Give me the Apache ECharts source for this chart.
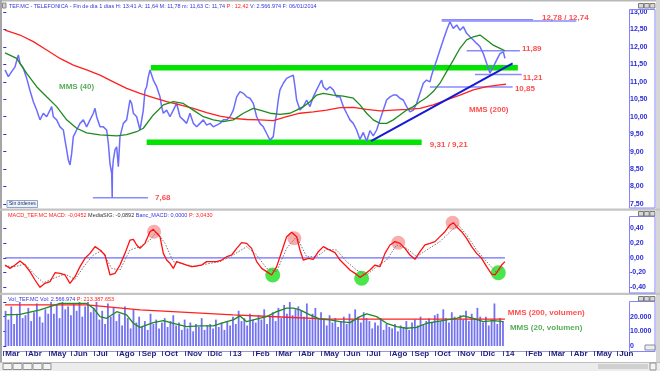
<!DOCTYPE html>
<html><head><meta charset="utf-8">
<script src="https://cdn.jsdelivr.net/npm/echarts@6/dist/echarts.min.js"></script>
<style>html,body{margin:0;padding:0;background:#fff}#c{width:660px;height:371px}</style>
</head><body><div id="c"></div><script>
// x values are months elapsed since 1 Mar 2012
const monthLabels = ['Mar','Abr','May','Jun','Jul','Ago','Sep','Oct','Nov','Dic','13','Feb','Mar','Abr','May','Jun','Jul','Ago','Sep','Oct','Nov','Dic','14','Feb','Mar','Abr','May','Jun'];

const price = [[0.075,11.34],[0.221,11.15],[0.368,11.29],[0.515,11.43],[0.661,11.77],[0.735,11.53],[0.881,11.39],[1.028,11.10],[1.174,10.75],[1.321,10.43],[1.467,10.19],[1.614,9.91],[1.761,10.10],[1.907,10.00],[2.054,10.19],[2.127,10.29],[2.200,10.00],[2.347,9.91],[2.494,9.71],[2.640,9.62],[2.713,9.33],[2.787,9.05],[2.860,8.76],[2.933,8.62],[3.007,8.95],[3.080,9.43],[3.226,9.62],[3.373,9.81],[3.520,9.91],[3.666,9.71],[3.813,9.91],[3.960,10.10],[4.033,10.24],[4.106,10.00],[4.253,9.71],[4.399,9.71],[4.546,9.62],[4.619,9.24],[4.692,8.66],[4.766,8.38],[4.790,7.68],[4.800,8.45],[4.839,8.76],[4.912,9.05],[4.986,9.14],[5.059,8.57],[5.132,9.43],[5.279,9.81],[5.425,9.91],[5.572,10.48],[5.645,10.38],[5.719,10.10],[5.865,10.00],[6.012,9.62],[6.158,10.19],[6.231,10.75],[6.305,10.86],[6.378,11.15],[6.451,11.34],[6.598,11.05],[6.745,10.86],[6.891,10.57],[6.964,10.29],[7.038,10.10],[7.184,10.19],[7.331,10.00],[7.477,10.19],[7.624,10.38],[7.771,10.00],[7.917,9.91],[8.064,9.81],[8.210,10.10],[8.357,9.81],[8.503,9.71],[8.650,9.81],[8.797,9.91],[8.943,9.76],[9.090,9.81],[9.236,9.71],[9.383,9.76],[9.530,9.81],[9.676,9.91],[9.823,9.91],[9.969,10.00],[10.116,10.19],[10.263,10.57],[10.409,10.72],[10.556,10.67],[10.702,10.57],[10.849,10.53],[10.995,10.38],[11.142,10.00],[11.288,9.81],[11.435,9.71],[11.582,9.52],[11.728,9.33],[11.874,9.43],[11.948,9.81],[12.021,10.10],[12.094,10.48],[12.168,10.77],[12.314,10.96],[12.461,11.10],[12.607,11.15],[12.754,11.19],[12.827,10.86],[12.900,10.48],[13.047,10.19],[13.194,10.29],[13.340,10.48],[13.487,10.29],[13.633,10.57],[13.780,10.77],[13.926,10.96],[14.000,11.05],[14.073,10.86],[14.220,10.77],[14.366,10.86],[14.513,10.77],[14.659,10.57],[14.806,10.57],[14.953,10.29],[15.099,10.10],[15.246,9.91],[15.392,9.81],[15.539,9.62],[15.686,9.35],[15.832,9.55],[15.979,9.30],[16.125,9.60],[16.272,9.45],[16.418,9.62],[16.565,9.91],[16.712,10.19],[16.858,10.48],[17.005,10.57],[17.151,10.62],[17.298,10.62],[17.445,10.53],[17.591,10.48],[17.738,10.29],[17.884,10.14],[18.031,10.19],[18.177,10.38],[18.324,10.67],[18.471,10.96],[18.617,11.05],[18.764,11.00],[18.837,11.19],[18.910,11.34],[18.984,11.48],[19.057,11.62],[19.204,11.91],[19.350,12.20],[19.497,12.48],[19.643,12.72],[19.790,12.53],[19.937,12.63],[20.083,12.48],[20.230,12.58],[20.376,12.39],[20.523,12.29],[20.670,12.20],[20.816,12.10],[20.963,12.01],[21.109,11.81],[21.256,11.53],[21.402,11.25],[21.549,11.43],[21.695,11.62],[21.842,11.81],[21.989,11.86],[22.062,11.67]];

const mms40 = [[0.075,11.83],[0.588,11.67],[1.028,11.24],[1.467,10.86],[1.907,10.57],[2.347,10.29],[2.787,9.91],[3.226,9.67],[3.666,9.54],[4.253,9.48],[4.986,9.45],[5.425,9.49],[5.865,9.57],[6.158,9.67],[6.598,10.05],[7.038,10.34],[7.477,10.43],[7.917,10.38],[8.357,10.19],[8.797,10.00],[9.236,9.91],[9.676,9.86],[10.116,9.91],[10.556,10.10],[10.995,10.24],[11.288,10.19],[11.728,10.10],[12.168,10.07],[12.607,10.10],[12.900,10.19],[13.194,10.29],[13.487,10.43],[13.780,10.62],[14.073,10.67],[14.513,10.62],[14.953,10.59],[15.392,10.53],[15.686,10.34],[15.979,10.10],[16.272,9.91],[16.565,9.81],[16.858,9.81],[17.151,9.91],[17.445,10.05],[17.738,10.19],[18.031,10.29],[18.324,10.43],[18.617,10.55],[18.910,10.72],[19.204,10.96],[19.497,11.29],[19.790,11.62],[20.083,11.96],[20.376,12.20],[20.670,12.29],[20.963,12.34],[21.256,12.20],[21.549,12.05],[21.842,11.96],[22.062,11.89]];

const mms200 = [[0.075,12.48],[0.735,12.34],[1.321,12.15],[1.907,11.91],[2.494,11.67],[3.080,11.48],[3.666,11.34],[4.253,11.19],[4.839,11.00],[5.425,10.81],[6.012,10.67],[6.598,10.55],[7.184,10.43],[7.771,10.34],[8.357,10.24],[8.943,10.12],[9.530,10.02],[10.116,9.95],[10.702,9.92],[11.288,9.91],[11.874,9.89],[12.461,10.00],[13.047,10.10],[13.633,10.14],[14.220,10.19],[14.806,10.26],[15.392,10.27],[15.979,10.21],[16.565,10.17],[17.151,10.19],[17.738,10.21],[18.324,10.24],[18.910,10.34],[19.497,10.48],[20.083,10.62],[20.670,10.77],[21.256,10.86],[21.842,10.91],[22.106,10.93]];

const macd = [[0.075,-0.098],[0.295,-0.143],[0.515,-0.098],[0.735,-0.043],[0.954,-0.098],[1.174,-0.188],[1.394,-0.301],[1.614,-0.400],[1.834,-0.346],[2.054,-0.324],[2.274,-0.202],[2.494,-0.211],[2.713,-0.233],[2.933,-0.346],[3.153,-0.256],[3.373,-0.120],[3.593,-0.007],[3.813,0.060],[4.033,0.151],[4.253,0.106],[4.472,0.038],[4.692,-0.233],[4.912,-0.211],[5.132,-0.098],[5.352,0.060],[5.572,0.241],[5.719,0.250],[5.865,0.174],[6.012,0.128],[6.231,0.196],[6.451,0.354],[6.598,0.386],[6.745,0.332],[6.891,0.287],[7.038,0.060],[7.184,-0.030],[7.331,-0.075],[7.477,-0.143],[7.624,-0.052],[7.844,-0.075],[8.064,-0.098],[8.284,-0.120],[8.503,-0.111],[8.723,-0.098],[8.943,-0.052],[9.163,-0.052],[9.383,-0.052],[9.603,-0.030],[9.823,0.015],[10.043,0.038],[10.263,0.128],[10.482,0.205],[10.702,0.196],[10.922,0.128],[11.142,-0.052],[11.362,-0.143],[11.582,-0.188],[11.802,-0.233],[12.022,-0.120],[12.241,0.083],[12.461,0.287],[12.681,0.345],[12.901,0.287],[13.047,0.106],[13.194,-0.030],[13.414,-0.007],[13.634,-0.021],[13.854,0.083],[14.074,0.151],[14.294,0.115],[14.367,0.106],[14.587,0.070],[14.807,-0.030],[15.027,-0.098],[15.246,-0.166],[15.466,-0.211],[15.686,-0.265],[15.906,-0.220],[16.126,-0.166],[16.346,-0.098],[16.566,-0.120],[16.786,0.060],[17.006,0.174],[17.225,0.219],[17.445,0.196],[17.665,0.128],[17.885,0.038],[18.105,-0.021],[18.325,0.083],[18.545,0.174],[18.765,0.196],[18.984,0.219],[19.204,0.287],[19.424,0.354],[19.644,0.445],[19.791,0.476],[19.937,0.422],[20.157,0.354],[20.377,0.264],[20.597,0.151],[20.817,0.060],[21.037,-0.007],[21.257,-0.120],[21.476,-0.220],[21.623,-0.233],[21.770,-0.166],[21.916,-0.098],[22.063,-0.052]];

const macdSignal = [[0.075,-0.111],[0.515,-0.120],[0.954,-0.084],[1.394,-0.233],[1.761,-0.338],[2.200,-0.280],[2.713,-0.220],[3.153,-0.293],[3.593,-0.098],[3.960,0.038],[4.326,0.097],[4.766,-0.143],[5.132,-0.166],[5.572,0.106],[6.012,0.151],[6.451,0.241],[6.745,0.354],[7.111,0.196],[7.477,-0.052],[7.844,-0.075],[8.357,-0.120],[8.943,-0.084],[9.530,-0.052],[10.116,0.038],[10.702,0.151],[11.142,0.038],[11.582,-0.143],[12.022,-0.188],[12.461,0.128],[12.901,0.287],[13.341,0.015],[13.780,0.015],[14.220,0.115],[14.660,0.106],[15.100,-0.052],[15.540,-0.166],[15.979,-0.233],[16.419,-0.120],[16.859,-0.030],[17.299,0.174],[17.738,0.128],[18.178,0.015],[18.618,0.106],[19.204,0.219],[19.644,0.354],[20.010,0.445],[20.377,0.309],[20.817,0.106],[21.257,-0.052],[21.696,-0.202],[21.989,-0.120]];

const macdPeaks = [[6.63,0.354],[12.80,0.264],[17.37,0.205],[19.76,0.476]];
const macdTroughs = [[11.85,-0.233],[15.76,-0.278],[21.77,-0.202]];

// volume bars: one every 1/8 month from volStart
const volStart = 0.1, volStep = 0.125;
const volume = [24000,18000,27000,15000,22000,30000,19000,21000, 26000,17000,23000,29000,20000,16000,25000,22000,
 30000,22000,28000,19000,31000,25000,27000,21000, 29000,24000,31000,20000,27000,30000,23000,26000,
 31000,18000,24000,15000,29000,20000,26000,17000, 22000,14000,27000,19000,12000,25000,16000,20000,
 13000,17000,11000,22000,15000,18000,12000,16000, 19000,13000,17000,21000,14000,16000,11000,18000,
 12000,16000,10000,15000,13000,19000,11000,14000, 15000,12000,18000,13000,16000,11000,17000,14000,
 20000,15000,24000,17000,19000,14000,22000,18000, 16000,21000,18000,25000,15000,20000,23000,17000,
 26000,19000,28000,22000,30000,21000,25000,27000, 24000,20000,29000,18000,22000,26000,19000,23000,
 18000,14000,21000,16000,19000,13000,17000,20000, 15000,22000,18000,25000,20000,16000,23000,19000,
 17000,12000,16000,14000,19000,11000,15000,13000, 12000,15000,10000,14000,13000,17000,11000,16000,
 18000,14000,20000,15000,17000,19000,16000,21000, 22000,17000,25000,19000,16000,23000,20000,18000,
 21000,18000,24000,17000,22000,19000,26000,20000, 16000,20000,14000,18000,29000,15000,19000,17000];

const volMms20 = [[0.075,21160],[0.735,21600],[1.614,24600],[2.494,29000],[3.666,29000],[3.960,25800],[4.253,20000],[4.546,18900],[4.986,23400],[5.425,21200],[5.719,15500],[6.012,12700],[6.598,15900],[7.038,17300],[7.477,15500],[8.064,13200],[8.650,13700],[9.236,13700],[9.823,16600],[10.116,17800],[10.409,20500],[10.702,16600],[10.995,17800],[11.582,20000],[12.022,23400],[12.461,25800],[12.754,25800],[13.047,24600],[13.487,21200],[13.927,18300],[14.367,17800],[14.807,16600],[15.246,15900],[15.686,20000],[15.979,21900],[16.419,20000],[16.859,15500],[17.299,13200],[17.738,12100],[18.178,12700],[18.618,15500],[19.058,16600],[19.497,17800],[19.937,18900],[20.230,20500],[20.670,18900],[21.110,16600],[21.549,17300],[21.989,16600]];
const volMms200 = [[0.075,28000],[3.666,28000],[6.012,24600],[10.116,21200],[12.461,19600],[14.367,18300],[22.06,18300]];

// chart annotations (levels drawn by the analyst)
const bandLevels = [11.40, 9.27];
const bandSpans = [[6.49,22.63],[6.305,18.40]];
const levelValues = [12.78, 12.74, 11.89, 11.21, 10.85, 7.68];
const levelSpans = [[19.28,23.3],[19.28,25.2],[20.38,22.72],[20.74,22.8],[18.76,22.4],[3.94,6.36]];
const trendLine = [[16.17,9.30],[22.40,11.53]];
const priceNotes = [['12,78 / 12,74',23.69,12.84,'r'],['11,89',22.81,11.94,'r'],['11,21',22.85,11.11,'r'],['10,85',22.50,10.79,'r'],['9,31 / 9,21',18.76,9.20,'r'],['7,68',6.67,7.685,'r'],['MMS (40)',2.45,10.85,'g'],['MMS (200)',20.48,10.21,'r']];
const volNotes = [['MMS (200, volumen)',22.19,22500,'r'],['MMS (20, volumen)',22.28,12300,'g']];

const FONT = '"Liberation Sans", Arial, sans-serif';
const AX = '#2a2ad8';
const RED = '#ff2020', GREEN = '#1f8a1f', NOTE_G = '#2e962e';
const fmt2 = v => v.toFixed(2).replace('.', ',').replace('-0,00','0,00');
const fmtVol = v => String(Math.round(v)).replace(/\B(?=(\d{3})+(?!\d))/g, '.');

const GL = 3.3, GW = 623.7, XMAX = 27.43;
const grids = [
  {left: GL, width: GW, top: 12, height: 192},
  {left: GL, width: GW, top: 228.3, height: 59},
  {left: GL, width: GW, top: 302, height: 44}
];
const monthTicks = monthLabels.map((_, i) => i);

const xAxes = [0,1,2].map(i => ({
  type: 'value', gridIndex: i, min: 0, max: XMAX,
  offset: i === 2 ? 5 : 0,
  axisLine: {show: i === 2, onZero: false, lineStyle: {color: '#9a9acc', width: 1}},
  axisTick: {show: i === 2, customValues: monthTicks, length: 5, lineStyle: {color: '#3a3aa0'}},
  axisLabel: {show: i === 2, customValues: monthTicks, formatter: v => monthLabels[Math.round(v)],
    align: 'left', margin: -1, padding: [0,0,0,2], color: '#1c1c80', fontSize: 8, fontWeight: 'bold', fontFamily: FONT},
  splitLine: {show: false}
}));

function yAx(i, min, max, interval, fmt) {
  return {type: 'value', gridIndex: i, min, max, interval, position: 'right', offset: 2,
    axisLine: {show: false}, axisTick: {show: true, length: 3, lineStyle: {color: AX}},
    axisLabel: {formatter: fmt, margin: 1, fontSize: 7, fontWeight: 'bold', color: AX, fontFamily: FONT},
    splitLine: {show: false}};
}

const lineBase = (data, color, width, xi, extra) => Object.assign({
  type: 'line', data, xAxisIndex: xi, yAxisIndex: xi, symbol: 'none', silent: true,
  lineStyle: {color, width}, z: 3, clip: false
}, extra || {});

const series = [];
bandLevels.forEach((lv, k) => series.push(lineBase([[bandSpans[k][0], lv],[bandSpans[k][1], lv]], '#00e400', 5.5, 0, {z: 1})));
levelValues.forEach((lv, k) => series.push(lineBase([[levelSpans[k][0], lv],[levelSpans[k][1], lv]], '#8a8aff', 1.5, 0, {z: 2})));
series.push(lineBase(price, '#6c6cff', 1.5, 0, {z: 3}));
series.push(lineBase(mms200, RED, 1.3, 0, {z: 4}));
series.push(lineBase(mms40, GREEN, 1.3, 0, {z: 4}));
series.push(lineBase(trendLine, '#1818d8', 2, 0, {z: 5}));
const noteSeries = (notes, xi) => ({
  type: 'scatter', xAxisIndex: xi, yAxisIndex: xi, symbolSize: 0, silent: true, z: 6, clip: false,
  data: notes.map(n => ({value: [n[1], n[2]], name: n[0],
    label: {show: true, position: 'right', distance: 0, formatter: n[0], color: n[3] === 'r' ? RED : NOTE_G,
      fontSize: 8, fontWeight: 'bold', fontFamily: FONT}}))
});
series.push(noteSeries(priceNotes, 0));

// MACD panel
series.push(lineBase([[0.08, 0],[22.06, 0]], '#6e6eff', 1.2, 1, {z: 2}));
series.push({type: 'scatter', xAxisIndex: 1, yAxisIndex: 1, data: macdPeaks, symbolSize: 14, silent: true, z: 1, clip: false,
  itemStyle: {color: 'rgba(240,110,110,0.7)'}});
series.push({type: 'scatter', xAxisIndex: 1, yAxisIndex: 1, data: macdTroughs, symbolSize: 15, silent: true, z: 1, clip: false,
  itemStyle: {color: '#1ee01e'}});
series.push(lineBase(macdSignal, '#777777', 1, 1, {z: 3, lineStyle: {color: '#777777', width: 1, type: [1.5, 1.5]}}));
series.push(lineBase(macd, '#ff1010', 1.3, 1, {z: 4}));

// Volume panel
series.push({type: 'bar', xAxisIndex: 2, yAxisIndex: 2, barWidth: 1.8, silent: true, z: 2,
  data: volume.map((v, i) => [volStart + i * volStep, v]), itemStyle: {color: '#7272f2'}});
series.push(lineBase(volMms200, RED, 1.3, 2, {z: 4}));
series.push(lineBase(volMms20, GREEN, 1.3, 2, {z: 4}));
series.push(noteSeries(volNotes, 2));

function txt(x, y, rich, parts, size) {
  return {type: 'text', left: x, top: y, silent: true, z: 10,
    style: {text: parts.map(p => '{' + p[0] + '|' + p[1] + '}').join(''), fontSize: size, fontFamily: FONT,
      rich: Object.fromEntries(Object.entries(rich).map(([k, c]) => [k, {fill: c, fontSize: size, fontFamily: FONT}]))}};
}
function rect(x, y, w, h, fill, stroke, z) {
  return {type: 'rect', shape: {x, y, width: w, height: h}, style: {fill: fill || 'none', stroke: stroke || null, lineWidth: 1}, silent: true, z: z || 0};
}
function winButtons(y) {
  return [0,1,2].map(k => rect(638.5 + k * 5.7, y, 5, 4.5, '#d8d8d8', '#7a7a7a', 9));
}

const graphic = [
  rect(0, 0, 660, 1.5, '#b8b8b8', null, 9),
  rect(0, 0, 2, 362, '#a6a6a6', null, 9),
  rect(656, 0, 4, 371, '#d6d6d6', null, 9),
  rect(0, 208.5, 660, 2.2, '#c4c4c4', null, 9),
  rect(0, 292.8, 660, 2.2, '#c4c4c4', null, 9),
  rect(629.5, 9.5, 25.5, 198.5, null, '#8484ff', 9),
  rect(629.5, 216.5, 25.5, 76.5, null, '#8484ff', 9),
  rect(629.5, 301.5, 25.5, 50, null, '#8484ff', 9),
  rect(645, 345, 10, 5, '#eeeeee', '#8a8aa0', 10),
  ...winButtons(3.5), ...winButtons(211.5), ...winButtons(296.5),
  rect(0, 362, 660, 9, '#ececec', null, 9),
  rect(0, 362, 660, 0.8, '#b0b0b0', null, 9),
  rect(3, 363.5, 9, 6, '#f4f4f4', '#909090', 10), rect(13, 363.5, 9, 6, '#f4f4f4', '#909090', 10),
  rect(23, 363.5, 9, 6, '#f4f4f4', '#909090', 10), rect(33, 363.5, 9, 6, '#f4f4f4', '#909090', 10),
  rect(43, 363.5, 8, 6, '#f4f4f4', '#909090', 10),
  rect(598, 364, 50, 5, '#d0d0d0', null, 10), rect(650, 363, 6, 7, '#f4f4f4', '#909090', 10),
  rect(2.5, 3, 3.5, 5, '#d0d0d0', '#888888', 10),
  rect(7, 200.5, 30.5, 7, '#eef2fa', '#8ea4c8', 10),
  {type: 'text', left: 9, top: 201.6, silent: true, z: 11, style: {text: 'Sin órdenes', fontSize: 5, fill: '#203060', fontFamily: FONT}},
  txt(9, 3, {b: '#3434e0', r: '#ff2020'}, [['b', 'TEF.MC - TELEFONICA - Fin de día 1 días H: 13:41 A: 11,64 M: 11,78 m: 11,63 C: 11,74 '], ['r', 'P : 12,42'], ['b', ' V: 2.566.974 F: 06/01/2014']], 5.5),
  txt(8, 212.5, {r: '#ff2020', k: '#303030', b: '#3434e0'}, [['r', 'MACD_TEF.MC MACD: -0,0452 '], ['k', 'MediaSIG: -0,0892 '], ['b', 'Banc_MACD: 0,0000 '], ['r', 'P: 3,0430']], 5.5),
  txt(8, 296.3, {r: '#ff2020', b: '#3434e0'}, [['b', 'Vol_TEF.MC Vol: 2.566.974 '], ['r', 'P: 213.387.653']], 5.5)
];

const chart = echarts.init(document.getElementById('c'), null, {renderer: 'canvas'});
chart.setOption({
  animation: false,
  backgroundColor: '#ffffff',
  grid: grids,
  xAxis: xAxes,
  yAxis: [
    yAx(0, 7.5, 13, 0.5, fmt2),
    yAx(1, -0.4, 0.4, 0.2, fmt2),
    yAx(2, 0, 30000, 10000, v => v >= 30000 ? '' : fmtVol(v))
  ],
  series,
  graphic
});
</script></body></html>
